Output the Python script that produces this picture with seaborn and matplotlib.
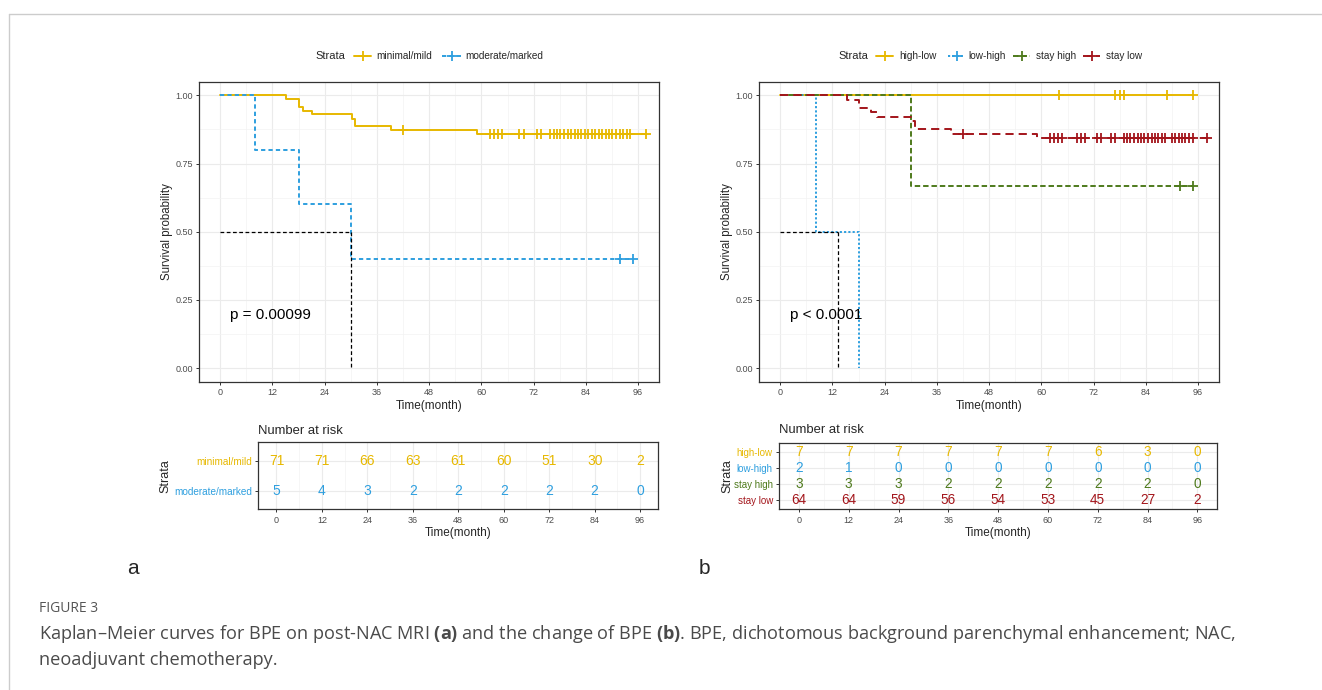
import numpy as np
import pandas as pd
import seaborn as sns
import matplotlib.pyplot as plt
from matplotlib.lines import Line2D

sns.set_theme(style="white")
plt.rcParams["font.family"] = ["Liberation Sans", "DejaVu Sans"]
plt.rcParams["mathtext.fontset"] = "custom"
plt.rcParams["mathtext.rm"] = "Open Sans"
plt.rcParams["mathtext.bf"] = "Open Sans:bold"

W, H = 1322, 690

# ---- data ---------------------------------------------------------------
risk_times = [0, 12, 24, 36, 48, 60, 72, 84, 96]

# (a) BPE on post-NAC MRI
a_groups = ["minimal/mild", "moderate/marked"]
a_colors = ["#E7B800", "#2E9FDF"]
a_mild_t = [0, 15.1, 18.1, 19.0, 21.0, 30.2, 30.9, 39.2, 59.1]
a_mild_s = [1.0, 0.986, 0.958, 0.944, 0.930, 0.915, 0.887, 0.873, 0.859]
a_mild_cens = [41.9, 62.0, 62.9, 63.9, 64.8, 68.6, 69.8, 72.7, 73.6, 75.7, 76.6,
               77.4, 78.1, 79.0, 79.8, 80.5, 81.4, 82.2, 82.9, 83.8, 84.6, 85.3,
               86.2, 87.0, 87.7, 88.6, 89.4, 90.1, 91.0, 91.8, 92.5, 93.4, 94.2, 97.9]
a_mod_t = [0, 8.0, 18.1, 30.1]
a_mod_s = [1.0, 0.8, 0.6, 0.4]
a_mod_cens = [91.9, 94.9]
a_median = 30.1
a_risk_mild = [71, 71, 66, 63, 61, 60, 51, 30, 2]
a_risk_mod = [5, 4, 3, 2, 2, 2, 2, 2, 0]
a_pval = "p = 0.00099"

# (b) change of BPE
b_groups = ["high-low", "low-high", "stay high", "stay low"]
b_colors = ["#E7B800", "#2E9FDF", "#4E7A1C", "#A3151B"]
b_hl_t = [0]
b_hl_s = [1.0]
b_hl_cens = [64.0, 77.0, 78.0, 79.0, 88.9, 94.9]
b_lh_t = [0, 8.2, 18.2]
b_lh_s = [1.0, 0.5, 0.0]
b_lh_cens = []
b_sh_t = [0, 30.1]
b_sh_s = [1.0, 0.667]
b_sh_cens = [91.9, 94.9]
b_sl_t = [0, 15.3, 18.1, 20.8, 22.2, 30.1, 30.9, 39.2, 59.1]
b_sl_s = [1.0, 0.984, 0.953, 0.938, 0.922, 0.906, 0.875, 0.859, 0.843]
b_sl_cens = [42.1, 62.0, 62.9, 63.8, 64.8, 68.1, 69.0, 70.1, 72.8, 73.8, 75.9,
             76.8, 78.9, 79.7, 80.4, 81.2, 82.1, 82.9, 83.6, 84.4, 85.3, 86.1,
             86.9, 87.6, 88.3, 89.9, 90.8, 91.6, 92.3, 93.1, 94.0, 94.8, 98.1]
b_median = 13.2
b_risk_hl = [7, 7, 7, 7, 7, 7, 6, 3, 0]
b_risk_lh = [2, 1, 0, 0, 0, 0, 0, 0, 0]
b_risk_sh = [3, 3, 3, 2, 2, 2, 2, 2, 0]
b_risk_sl = [64, 64, 59, 56, 54, 53, 45, 27, 2]
b_pval = "p < 0.0001"

a_dashes = ["-", (0, (2.2, 1.6))]
b_dashes = ["-", (0, (1.1, 1.1)), (0, (2.8, 1.5)), (0, (4.2, 2.6))]

# ---- helpers ----------------------------------------------------------------
def box(l, t, r, b):
    return [l / W, 1 - b / H, (r - l) / W, (b - t) / H]


def fx(x):
    return x / W


def fy(y):
    return 1 - y / H


def draw_km(ax, t, s, cens, color, ls):
    xs, ys = list(t), list(s)
    if cens:
        xs.append(max(cens))
        ys.append(s[-1])
    df = pd.DataFrame({"time": xs, "surv": ys})
    sns.lineplot(data=df, x="time", y="surv", ax=ax, color=color, lw=1.4,
                 drawstyle="steps-post", estimator=None, sort=False, linestyle=ls)
    if cens:
        cy = [s[np.searchsorted(t, c, side="right") - 1] for c in cens]
        sns.scatterplot(x=cens, y=cy, ax=ax, marker="+", color=color, s=45,
                        linewidth=1.3, zorder=5)


def style_axes(ax):
    for sp in ax.spines.values():
        sp.set_color("#333333")
        sp.set_linewidth(0.9)
    ax.set_xlim(-4.8, 100.8)
    ax.set_xticks(risk_times)
    ax.set_xticks([6, 18, 30, 42, 54, 66, 78, 90], minor=True)
    ax.grid(which="major", color="#EBEBEB", lw=0.8)
    ax.grid(which="minor", color="#F3F3F3", lw=0.5)
    ax.set_axisbelow(True)
    ax.tick_params(which="major", length=2.5, width=0.7, color="#333333",
                   labelsize=6.5, labelcolor="#4D4D4D", pad=2, bottom=True, left=True)
    ax.tick_params(which="minor", length=0)


def km_panel(ax, curves, median, pval):
    for t, s, cens, color, ls in curves:
        draw_km(ax, t, s, cens, color, ls)
    ax.plot([0, median], [0.5, 0.5], color="black", lw=0.9, ls=(0, (3, 2)))
    ax.plot([median, median], [0.5, 0], color="black", lw=0.9, ls=(0, (3, 2)))
    style_axes(ax)
    ax.set_ylim(-0.05, 1.05)
    ax.set_yticks([0, 0.25, 0.5, 0.75, 1.0])
    ax.set_yticklabels(["0.00", "0.25", "0.50", "0.75", "1.00"])
    ax.set_yticks([0.125, 0.375, 0.625, 0.875], minor=True)
    ax.text(2.2, 0.195, pval, fontsize=11, va="center", ha="left", color="black")
    ax.set_xlabel("Time(month)", fontsize=8.5, va="center")
    ax.xaxis.set_label_coords(0.5, -0.081)
    ax.set_ylabel("Survival probability", fontsize=8.3, va="center")
    ax.yaxis.set_label_coords(-0.071, 0.5)


def risk_panel(ax, groups, colors, rows, num_size, lab_size, ylab_x):
    n = len(groups)
    for i, (vals, c) in enumerate(zip(rows, colors)):
        for tt, v in zip(risk_times, vals):
            ax.text(tt, i, str(v), color=c, fontsize=num_size, ha="center", va="center")
    style_axes(ax)
    ax.set_ylim(n - 1 + 0.6, -0.6)
    ax.set_yticks(range(n))
    ax.set_yticklabels(groups, fontsize=lab_size)
    for lab, c in zip(ax.get_yticklabels(), colors):
        lab.set_color(c)
    ax.set_xlabel("Time(month)", fontsize=8.5, va="center")
    ax.xaxis.set_label_coords(0.5, -0.35)
    ax.set_ylabel("Strata", fontsize=9, va="center")
    ax.yaxis.set_label_coords(ylab_x, 0.5)


def legend(items, title_x, y):
    fig.text(fx(title_x), fy(y), "Strata", fontsize=8, va="center", ha="left")
    for x1, x2, tx, lab, c, ls in items:
        fig.add_artist(Line2D([fx(x1), fx(x2)], [fy(y), fy(y)], transform=fig.transFigure,
                              color=c, lw=1.4, ls=ls))
        fig.add_artist(Line2D([fx((x1 + x2) / 2)], [fy(y)], transform=fig.transFigure,
                              color=c, marker="+", ms=6.5, mew=1.3, ls="none"))
        fig.text(fx(tx), fy(y), lab, fontsize=7.2, va="center", ha="left")


# ---- figure -----------------------------------------------------------------
fig = plt.figure(figsize=(W / 100, H / 100), dpi=100)
fig.patch.set_facecolor("white")

ax_a = fig.add_axes(box(199.3, 81.7, 659, 381.7))
ax_b = fig.add_axes(box(759.3, 81.7, 1219, 381.7))
tab_a = fig.add_axes(box(258.3, 442.3, 658.3, 509.3))
tab_b = fig.add_axes(box(779, 442.7, 1217.3, 509.3))

km_panel(ax_a, [(a_mild_t, a_mild_s, a_mild_cens, a_colors[0], a_dashes[0]),
                (a_mod_t, a_mod_s, a_mod_cens, a_colors[1], a_dashes[1])],
         a_median, a_pval)
km_panel(ax_b, [(b_hl_t, b_hl_s, b_hl_cens, b_colors[0], b_dashes[0]),
                (b_lh_t, b_lh_s, b_lh_cens, b_colors[1], b_dashes[1]),
                (b_sh_t, b_sh_s, b_sh_cens, b_colors[2], b_dashes[2]),
                (b_sl_t, b_sl_s, b_sl_cens, b_colors[3], b_dashes[3])],
         b_median, b_pval)

risk_panel(tab_a, a_groups, a_colors, [a_risk_mild, a_risk_mod], 10, 7.2, -0.233)
risk_panel(tab_b, b_groups, b_colors, [b_risk_hl, b_risk_lh, b_risk_sh, b_risk_sl],
           9.8, 7.0, -0.118)

fig.text(fx(258.3), fy(431), "Number at risk", fontsize=9.4, va="center", ha="left")
fig.text(fx(779), fy(430), "Number at risk", fontsize=9.4, va="center", ha="left")

legend([(354, 371, 376.7, a_groups[0], a_colors[0], a_dashes[0]),
        (442, 461, 465, a_groups[1], a_colors[1], a_dashes[1])], 315, 56)
legend([(876, 893, 899, b_groups[0], b_colors[0], b_dashes[0]),
        (948, 965, 968, b_groups[1], b_colors[1], b_dashes[1]),
        (1013, 1030, 1036, b_groups[2], b_colors[2], b_dashes[2]),
        (1083, 1100, 1106, b_groups[3], b_colors[3], b_dashes[3])], 838, 56)

fig.text(fx(133), fy(569), "a", fontsize=15, ha="center", va="center")
fig.text(fx(704), fy(569), "b", fontsize=15, ha="center", va="center")

# page frame
fig.add_artist(Line2D([fx(9), fx(9)], [fy(14), 0], transform=fig.transFigure,
                      color="#CCCCCC", lw=1))
fig.add_artist(Line2D([fx(9), 1], [fy(14), fy(14)], transform=fig.transFigure,
                      color="#CCCCCC", lw=1))

cap_font = ["Open Sans", "DejaVu Sans"]
fig.text(fx(39), fy(608), "FIGURE 3", fontsize=10, color="#555555",
         family=cap_font, va="center")
fig.text(fx(39), fy(634),
         "Kaplan\u2013Meier curves for BPE on post-NAC MRI $\\mathbf{(a)}$ and the change of "
         "BPE $\\mathbf{(b)}$. BPE, dichotomous background parenchymal enhancement; NAC,",
         fontsize=13.1, color="#4A4A4A", family=cap_font, va="center")
fig.text(fx(39), fy(660), "neoadjuvant chemotherapy.", fontsize=13.1,
         color="#4A4A4A", family=cap_font, va="center")

fig.savefig("out.png", dpi=100)
